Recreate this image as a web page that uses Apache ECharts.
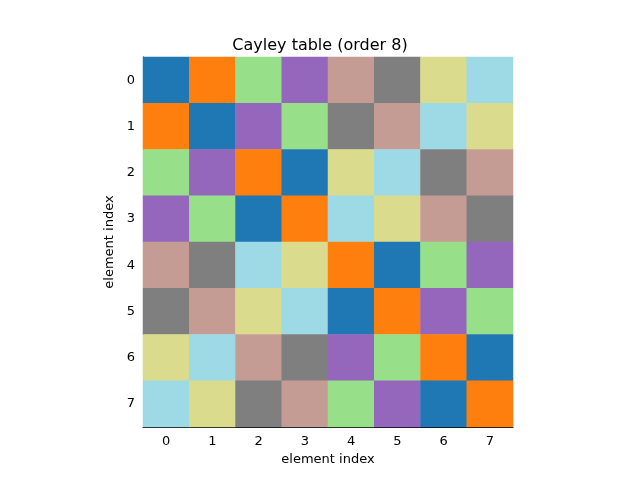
<!DOCTYPE html>
<html><head><meta charset="utf-8">
<script src="https://cdn.jsdelivr.net/npm/echarts@6/dist/echarts.min.js"></script>
<style>html,body{margin:0;padding:0;background:#fff}#c{width:640px;height:480px}</style>
</head><body><div id="c"></div>
<script>
const labels = ['0','1','2','3','4','5','6','7'];
const table = [
 [0,1,2,3,4,5,6,7],
 [1,0,3,2,5,4,7,6],
 [2,3,1,0,6,7,5,4],
 [3,2,0,1,7,6,4,5],
 [4,5,7,6,1,0,2,3],
 [5,4,6,7,0,1,3,2],
 [6,7,4,5,3,2,1,0],
 [7,6,5,4,2,3,0,1]
];
const palette = ['#1f77b4','#ff7f0e','#98df8a','#9467bd','#c49c94','#7f7f7f','#dbdb8d','#9edae5'];
const data = [];
table.forEach((row, r) => row.forEach((v, c) => data.push([c, r, v])));
const font = 'DejaVu Sans';
const axisCommon = {
  type: 'category', data: labels,
  axisLine: {lineStyle: {color: '#000', width: 1}},
  axisTick: {alignWithLabel: true, length: 4, lineStyle: {color: '#000'}},
  axisLabel: {color: '#000', fontFamily: font, fontSize: 13},
  nameLocation: 'middle',
  nameTextStyle: {color: '#000', fontFamily: font, fontSize: 13},
  splitLine: {show: false}
};
const chart = echarts.init(document.getElementById('c'));
chart.setOption({
  animation: false,
  title: {text: 'Cayley table (order 8)', left: 'center', top: 33,
    textStyle: {fontFamily: font, fontSize: 16, fontWeight: 'normal', color: '#000'}},
  grid: {left: 143, top: 57, width: 370, height: 370},
  xAxis: Object.assign({}, axisCommon, {name: 'element index', nameGap: 26, position: 'bottom'}),
  yAxis: Object.assign({}, axisCommon, {name: 'element index', nameGap: 26, inverse: true}),
  visualMap: {show: false, type: 'piecewise', dimension: 2,
    pieces: palette.map((c, i) => ({value: i, color: c}))},
  series: [{type: 'heatmap', data: data, itemStyle: {borderWidth: 0}, emphasis: {disabled: true}}]
});
</script></body></html>
